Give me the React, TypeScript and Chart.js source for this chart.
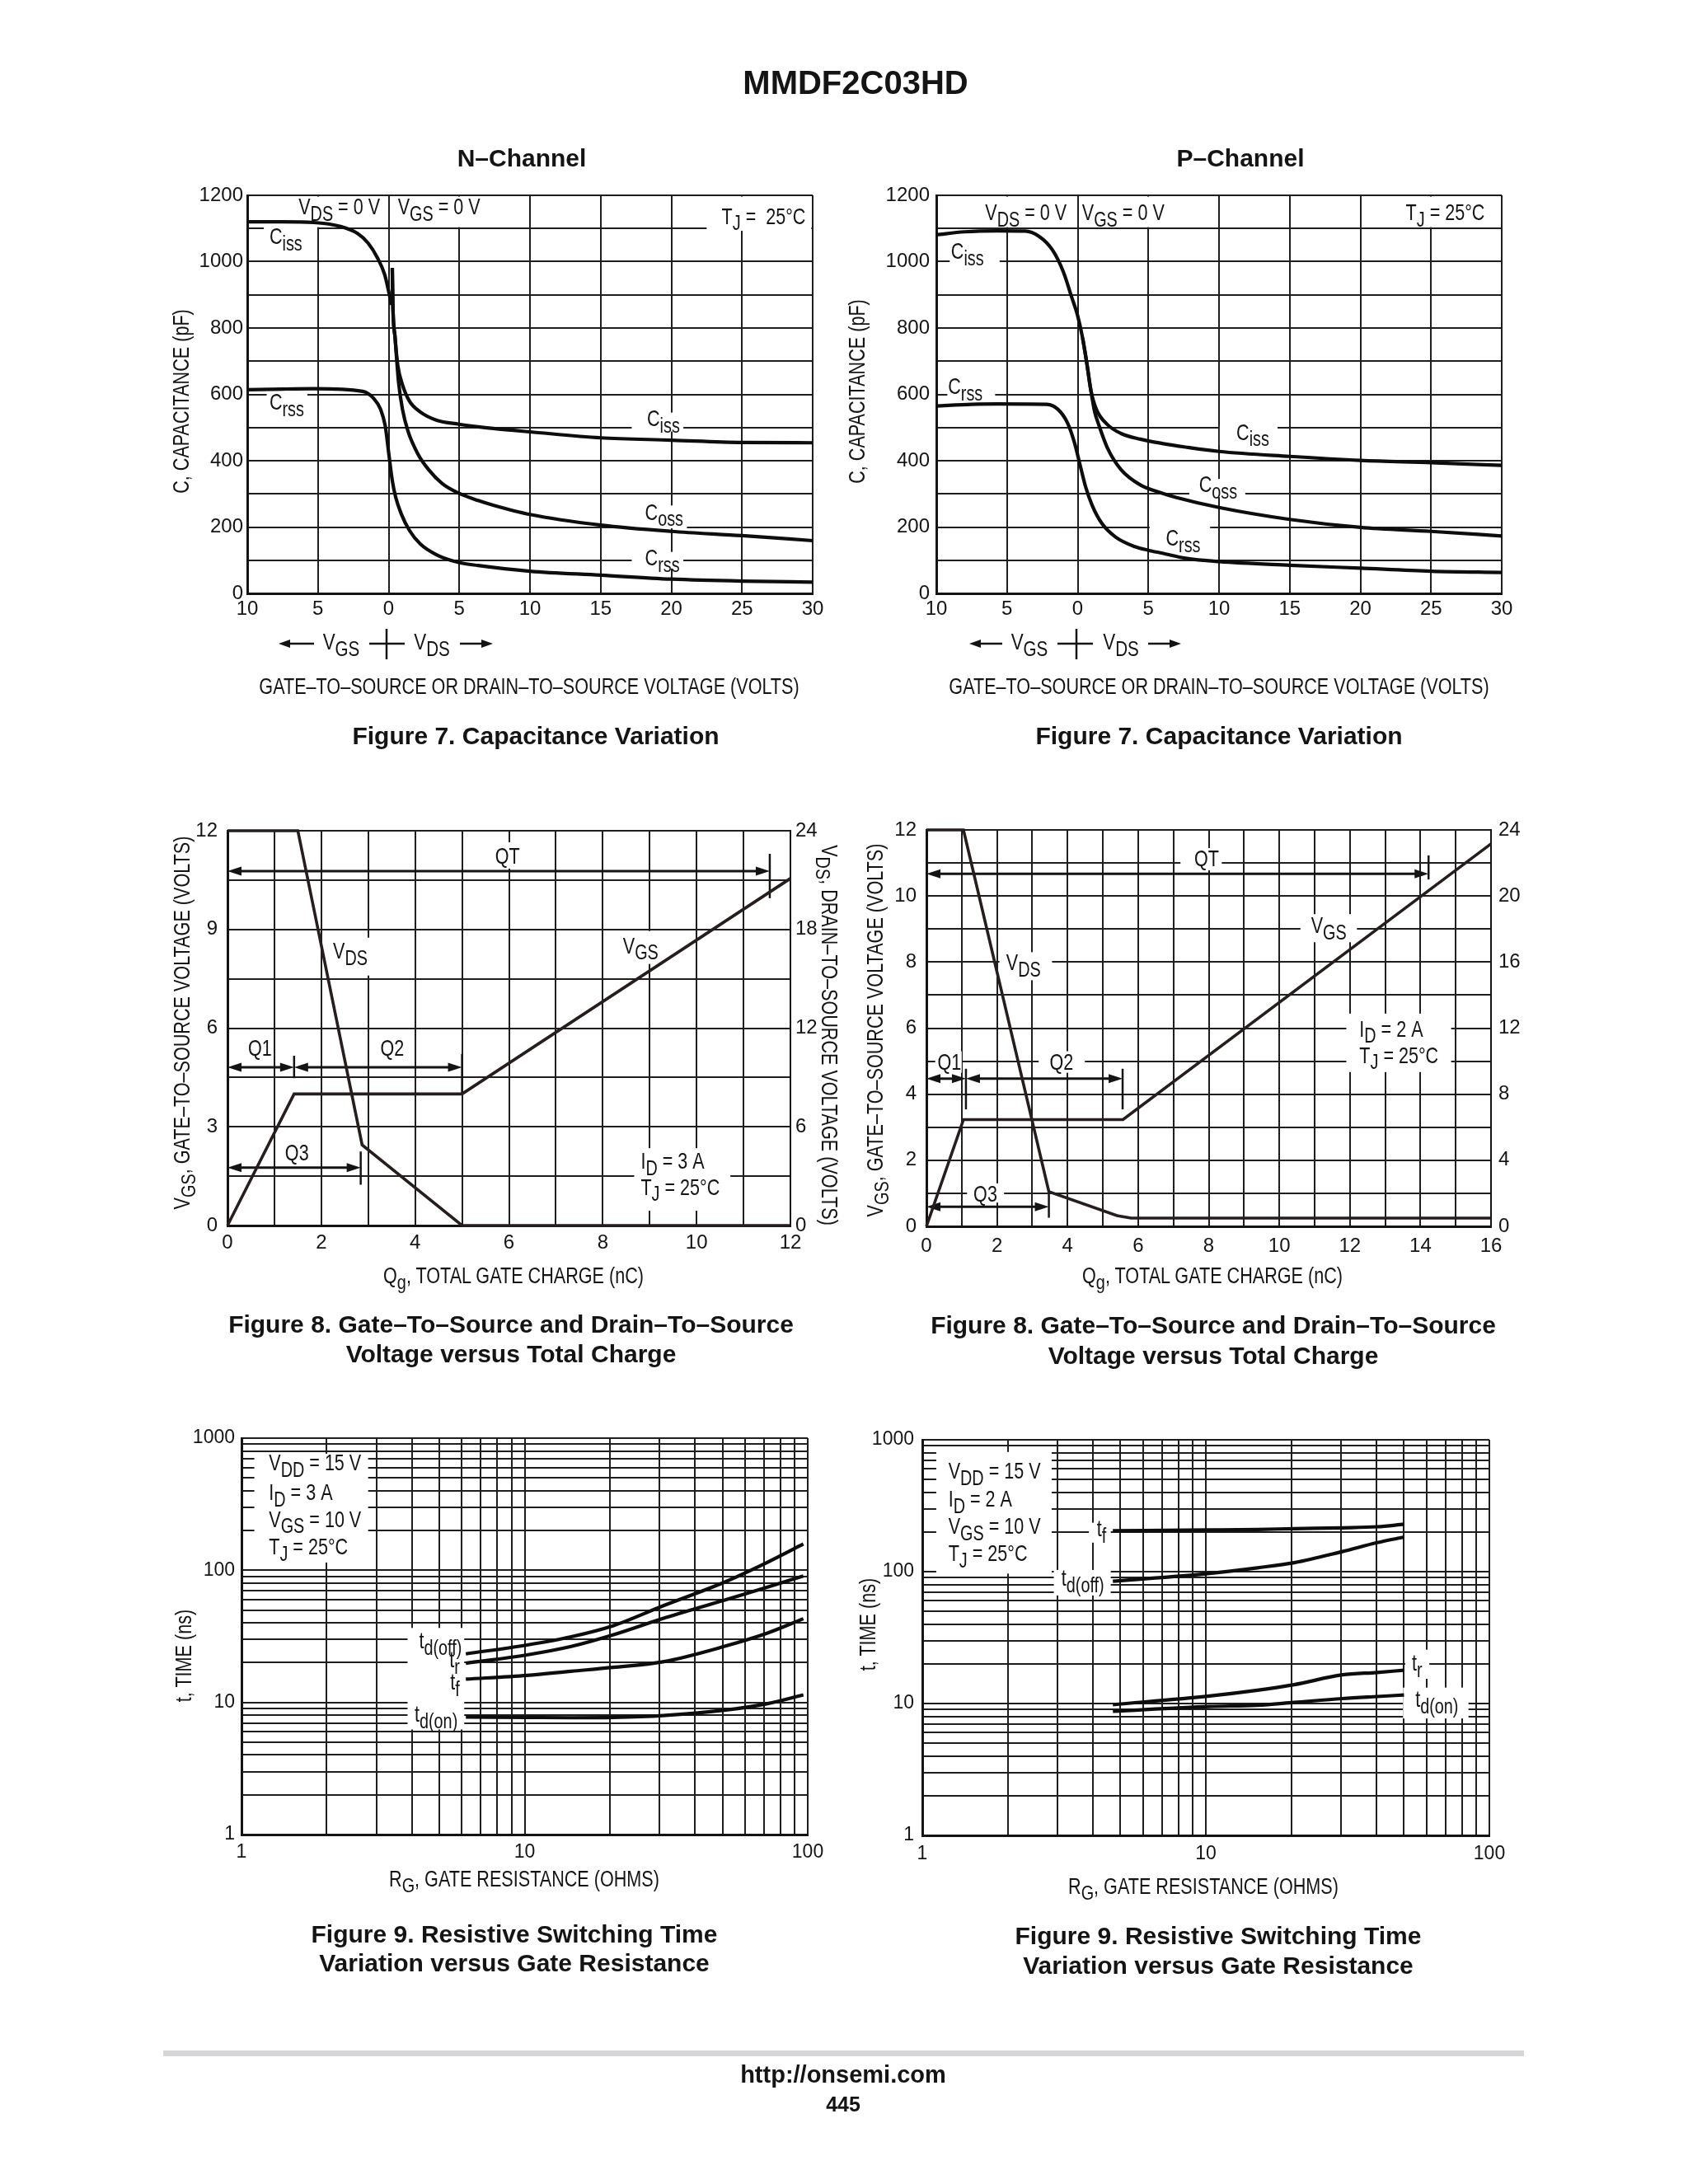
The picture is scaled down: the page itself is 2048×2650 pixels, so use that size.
import React, { useEffect, useRef } from 'react';
import { Chart, registerables } from 'chart.js';

Chart.register(...registerables);

const SANS = "'Liberation Sans', Arial, Helvetica, sans-serif";
const COND = 0.8; // horizontal squeeze used to imitate a condensed face (page texts)
const ACOND = 0.77; // squeeze for in-plot labels
const INK = '#141414';
const GRID = '#1e1e1e';
const CURVE = '#0d0d0d';
const QCURVE = '#261d1d';

Chart.defaults.font.family = SANS;
Chart.defaults.color = INK;

// ---------------- Figure 7, N-Channel (x: VGS side negative, VDS side positive) ----------------
const capVoltGrid = [-10, -5, 0, 5, 10, 15, 20, 25, 30];
const capPfGrid = [0, 100, 200, 300, 400, 500, 600, 700, 800, 900, 1000, 1100, 1200];
const capPfLabels = [0, 200, 400, 600, 800, 1000, 1200];

const nCissGateV = [-10, -7.5, -5.3, -3.4, -2.2, -1.45, -0.77, -0.28, 0.0, 0.2];
const nCissGateC = [1120, 1120, 1118, 1106, 1085, 1056, 1010, 961, 911, 870];
const nCissDrainV = [0.26, 0.3, 0.46, 0.65, 0.98, 1.47, 2.24, 3.41, 4.97, 6.33, 7.4, 10, 15, 20, 25, 30];
const nCissDrainC = [981, 870, 770, 687, 629, 580, 547, 522, 510, 502, 497, 487, 469, 462, 455, 454];
const nCossV = [0.26, 0.3, 0.46, 0.7, 0.98, 1.37, 2.05, 2.83, 3.8, 4.97, 6.33, 7.4, 10, 15, 20, 25, 30];
const nCossC = [981, 870, 770, 638, 555, 489, 422, 373, 331, 302, 280, 266, 238, 206, 187, 174, 159];
const nCrssV = [-10, -7.5, -5.3, -1.84, -1.06, -0.57, -0.24, 0.01, 0.26, 0.5, 0.89, 1.47, 2.24, 3.41, 4.97, 6.33, 10, 15, 20, 25, 30];
const nCrssC = [614, 616, 617, 609, 588, 555, 505, 422, 340, 290, 240, 190, 149, 116, 93, 84, 67, 55, 43, 37, 34];

// ---------------- Figure 7, P-Channel ----------------
const pCissV = [-10, -8, -5.67, -3.73, -2.76, -1.78, -1.01, -0.43, 0, 0.35, 0.64, 0.93, 1.32, 2.1, 3.07, 4.43, 5.98, 7.64, 10, 15, 20, 25, 30];
const pCissC = [1081, 1090, 1093, 1092, 1077, 1035, 969, 894, 837, 770, 696, 613, 555, 509, 482, 465, 452, 441, 428, 413, 401, 394, 386];
const pCossV = [0.35, 0.64, 0.93, 1.2, 1.52, 2.1, 3.07, 4.43, 5.98, 7, 10, 15, 20, 25, 30];
const pCossC = [770, 696, 613, 548, 505, 439, 373, 327, 302, 289, 259, 223, 199, 187, 173];
const pCrssV = [-10, -7.5, -5.67, -2.17, -1.4, -0.72, -0.23, 0.16, 0.55, 1.03, 1.71, 2.68, 4.04, 5, 6, 7.64, 10, 15, 20, 25, 30];
const pCrssC = [565, 570, 571, 570, 555, 514, 455, 389, 323, 265, 211, 170, 141, 130, 121, 106, 96, 85, 76, 67, 63];

// ---------------- Figure 8, N-Channel ----------------
const nQgGrid = [0, 1, 2, 3, 4, 5, 6, 7, 8, 9, 10, 11, 12];
const nQgLabels = [0, 2, 4, 6, 8, 10, 12];
const nVgsGrid = [0, 1.5, 3, 4.5, 6, 7.5, 9, 10.5, 12];
const nVgsLabels = [0, 3, 6, 9, 12];
const nVdsAxis = [0, 6, 12, 18, 24];
const nVgsQ = [0, 1.42, 5.0, 12];
const nVgsV = [0, 4.0, 4.0, 10.55];
const nVdsQ = [0, 1.5, 2.87, 5.0, 12];
const nVdsV = [24, 24, 4.9, 0, 0];

// ---------------- Figure 8, P-Channel ----------------
const pQgGrid = [0, 1, 2, 3, 4, 5, 6, 7, 8, 9, 10, 11, 12, 13, 14, 15, 16];
const pQgLabels = [0, 2, 4, 6, 8, 10, 12, 14, 16];
const pVgsGrid = [0, 1, 2, 3, 4, 5, 6, 7, 8, 9, 10, 11, 12];
const pVgsLabels = [0, 2, 4, 6, 8, 10, 12];
const pVdsAxis = [0, 4, 8, 12, 16, 20, 24];
const pVgsQ = [0, 1.05, 5.57, 16];
const pVgsV = [0, 3.23, 3.23, 11.58];
const pVdsQ = [0, 1.05, 3.47, 5.4, 5.8, 16];
const pVdsV = [24, 24, 2.1, 0.65, 0.5, 0.5];

// ---------------- Figure 9 (log-log) ----------------
const rgGrid = [1, 2, 3, 4, 5, 6, 7, 8, 9, 10, 20, 30, 40, 50, 60, 70, 80, 90, 100];
const rgLabels = [1, 10, 100];
const tGrid = [1, 2, 3, 4, 5, 6, 7, 8, 9, 10, 20, 30, 40, 50, 60, 70, 80, 90, 100, 200, 300, 400, 500, 600, 700, 800, 900, 1000];
const tLabels = [1, 10, 100, 1000];

const nRg = [6.2, 10.2, 14.6, 20.5, 30.8, 50.6, 72.1, 96.5];
const nTdOff = [23.3, 27.2, 31.4, 38, 53.8, 81, 115, 158];
const nTr = [19.8, 22.9, 26.5, 32.4, 43.2, 59.3, 74.7, 90.6];
const nTf = [15, 16, 17.2, 18.4, 20.3, 26.5, 33.5, 43];
const nTdOn = [7.76, 7.7, 7.66, 7.7, 7.95, 8.72, 9.8, 11.4];

const pRg = [4.7, 10.3, 15.2, 20.5, 30.3, 40.2, 50];
const pTf = [204, 207, 209, 212, 215, 219, 229];
const pTdOff = [84.5, 97, 107, 117, 142, 166, 183];
const pTr = [9.8, 11.4, 12.6, 13.9, 16.5, 17.2, 17.9];
const pTdOn = [8.74, 9.5, 9.7, 10.2, 10.9, 11.3, 11.6];

// ---------------- helpers ----------------
type Run = { t: string; sub?: boolean };
function parseRich(s: string): Run[] {
  const out: Run[] = [];
  const re = /_\{([^}]*)\}/g;
  let last = 0;
  let m: any;
  while ((m = re.exec(s))) {
    if (m.index > last) out.push({ t: s.slice(last, m.index) });
    out.push({ t: m[1], sub: true });
    last = re.lastIndex;
  }
  if (last < s.length) out.push({ t: s.slice(last) });
  return out;
}

function drawRich(ctx: any, s: string, x: number, y: number, size: number, align: string) {
  const runs = parseRich(s);
  const fMain = `${size}px ${SANS}`;
  const fSub = `${size * 0.92}px ${SANS}`;
  let w = 0;
  const widths = runs.map((r) => {
    ctx.font = r.sub ? fSub : fMain;
    const mw = ctx.measureText(r.t).width;
    w += mw;
    return mw;
  });
  const sw = w * ACOND;
  const start = align === 'right' ? x - sw : align === 'center' ? x - sw / 2 : x;
  ctx.save();
  ctx.translate(start, y);
  ctx.scale(ACOND, 1);
  ctx.textBaseline = 'middle';
  ctx.textAlign = 'left';
  let cx = 0;
  runs.forEach((r, i) => {
    ctx.font = r.sub ? fSub : fMain;
    ctx.fillText(r.t, cx, r.sub ? size * 0.3 : 0);
    cx += widths[i];
  });
  ctx.restore();
}

function arrowHead(ctx: any, x: number, y: number, dir: number) {
  const L = 17;
  const H = 5.5;
  ctx.beginPath();
  ctx.moveTo(x, y);
  ctx.lineTo(x - dir * L, y - H);
  ctx.lineTo(x - dir * L, y + H);
  ctx.closePath();
  ctx.fill();
}

const annoPlugin = {
  id: 'anno',
  beforeDatasetsDraw(chart: any, _args: any, opts: any) {
    const { ctx, chartArea, scales } = chart;
    const xs = scales.x;
    const ys = scales.y;
    ctx.save();
    ctx.beginPath();
    ctx.rect(chartArea.left + 2, chartArea.top + 1.5, chartArea.right - chartArea.left - 3, chartArea.bottom - chartArea.top - 3);
    ctx.clip();
    ctx.fillStyle = '#ffffff';
    (opts.boxes || []).forEach((b: number[]) => {
      const a1 = xs.getPixelForValue(b[0]);
      const a2 = xs.getPixelForValue(b[1]);
      const c1 = ys.getPixelForValue(b[2]);
      const c2 = ys.getPixelForValue(b[3]);
      ctx.fillRect(Math.min(a1, a2), Math.min(c1, c2), Math.abs(a2 - a1), Math.abs(c2 - c1));
    });
    ctx.restore();
    ctx.save();
    ctx.strokeStyle = INK;
    ctx.fillStyle = INK;
    (opts.arrows || []).forEach((a: number[]) => {
      const x1 = xs.getPixelForValue(a[0]);
      const x2 = xs.getPixelForValue(a[1]);
      const y = ys.getPixelForValue(a[2]);
      ctx.lineWidth = 3;
      ctx.beginPath();
      ctx.moveTo(x1 + 8, y);
      ctx.lineTo(x2 - 8, y);
      ctx.stroke();
      arrowHead(ctx, x1, y, -1);
      arrowHead(ctx, x2, y, 1);
    });
    (opts.bars || []).forEach((b: number[]) => {
      const x = xs.getPixelForValue(b[0]);
      ctx.lineWidth = 2.5;
      ctx.beginPath();
      ctx.moveTo(x, ys.getPixelForValue(b[1]));
      ctx.lineTo(x, ys.getPixelForValue(b[2]));
      ctx.stroke();
    });
    (opts.texts || []).forEach((t: any) => {
      drawRich(ctx, t.s, xs.getPixelForValue(t.x), ys.getPixelForValue(t.y), t.size || 28, t.align || 'left');
    });
    ctx.restore();
  },
};

function makeScale(o: any) {
  return {
    type: o.type || 'linear',
    position: o.position,
    min: o.min,
    max: o.max,
    afterBuildTicks: (s: any) => {
      s.ticks = o.grid.map((v: number) => ({ value: v }));
    },
    afterFit: (s: any) => {
      if (o.fitW !== undefined) s.width = o.fitW;
      if (o.fitH !== undefined) s.height = o.fitH;
    },
    ticks: {
      autoSkip: false,
      maxRotation: 0,
      minRotation: 0,
      padding: o.pad,
      color: INK,
      font: { family: SANS, size: o.size || 24 },
      callback: (v: any) => (o.labels.includes(Number(v)) ? String(o.abs ? Math.abs(Number(v)) : Number(v)) : ''),
    },
    grid: { display: o.showGrid !== false, color: GRID, lineWidth: 2, drawTicks: false },
    border: { display: true, color: INK, width: o.borderW || 3 },
  };
}

const pts = (xs: number[], ys: number[]) => xs.map((x, i) => ({ x, y: ys[i] }));
const curve = (xs: number[], ys: number[]) => ({
  data: pts(xs, ys),
  borderColor: CURVE,
  borderWidth: 4.2,
  pointRadius: 0,
  fill: false,
  cubicInterpolationMode: 'monotone',
  clip: false,
});
const straight = (xs: number[], ys: number[], axis: string) => ({
  data: pts(xs, ys),
  yAxisID: axis,
  borderColor: QCURVE,
  borderWidth: 3.6,
  pointRadius: 0,
  fill: false,
  tension: 0,
  clip: false,
  borderJoinStyle: 'miter',
});

function baseOptions(pad: any, anno: any) {
  return {
    responsive: false,
    animation: false,
    devicePixelRatio: 1,
    events: [],
    layout: { padding: pad },
    plugins: { legend: { display: false }, tooltip: { enabled: false }, anno },
  };
}

// ---------------- annotation sets ----------------
const capNAnno = {
  boxes: [
    [-6.8, -0.35, 1104, 1197], [0.3, 6.9, 1104, 1197], [22.5, 29.9, 1093, 1197],
    [-8.83, -5.05, 1028, 1106], [-8.63, -5.75, 530, 604],
    [17.2, 20.85, 488, 545], [17.2, 21.1, 196, 265], [17.2, 20.85, 75, 125],
  ],
  texts: [
    { s: 'V_{DS} = 0 V', x: -0.61, y: 1161, align: 'right' },
    { s: 'V_{GS} = 0 V', x: 0.65, y: 1161 },
    { s: 'T_{J} =  25°C', x: 29.5, y: 1133, align: 'right' },
    { s: 'C_{iss}', x: -8.43, y: 1072 },
    { s: 'C_{rss}', x: -8.43, y: 572 },
    { s: 'C_{iss}', x: 18.28, y: 524 },
    { s: 'C_{oss}', x: 18.14, y: 241 },
    { s: 'C_{rss}', x: 18.14, y: 103 },
  ],
};

const capPAnno = {
  boxes: [
    [-7.13, -0.5, 1104, 1197], [0.16, 6.57, 1104, 1197], [22.6, 29.9, 1104, 1197],
    [-9.05, -5.52, 985, 1060], [-9.22, -5.84, 590, 645],
    [10.05, 14.14, 448, 505], [7.9, 11.86, 290, 345], [5.09, 9.37, 135, 205],
  ],
  texts: [
    { s: 'V_{DS} = 0 V', x: -0.78, y: 1144, align: 'right' },
    { s: 'V_{GS} = 0 V', x: 0.31, y: 1144 },
    { s: 'T_{J} = 25°C', x: 28.8, y: 1144, align: 'right' },
    { s: 'C_{iss}', x: -8.96, y: 1027 },
    { s: 'C_{rss}', x: -9.17, y: 621 },
    { s: 'C_{iss}', x: 11.23, y: 482 },
    { s: 'C_{oss}', x: 8.58, y: 325 },
    { s: 'C_{rss}', x: 6.24, y: 163 },
  ],
};

const gateNAnno = {
  boxes: [[5.55, 6.4, 10.85, 11.65], [2.2, 3.15, 7.6, 8.75], [8.35, 9.3, 7.95, 8.95], [8.67, 10.72, 0.45, 2.35]],
  arrows: [[0, 11.56, 10.77], [0, 1.42, 4.81], [1.42, 5.0, 4.81], [0, 2.84, 1.76]],
  bars: [[11.56, 9.95, 11.3], [1.42, 4.48, 5.16], [5.0, 3.98, 5.21], [2.84, 1.24, 2.25]],
  texts: [
    { s: 'QT', x: 5.97, y: 11.2, align: 'center' },
    { s: 'V_{DS}', x: 2.25, y: 8.3 },
    { s: 'V_{GS}', x: 8.43, y: 8.47 },
    { s: 'Q1', x: 0.69, y: 5.36, align: 'center' },
    { s: 'Q2', x: 3.51, y: 5.36, align: 'center' },
    { s: 'Q3', x: 1.48, y: 2.18, align: 'center' },
    { s: 'I_{D} = 3 A', x: 8.81, y: 1.91 },
    { s: 'T_{J} = 25°C', x: 8.81, y: 1.13 },
  ],
};

const gatePAnno = {
  boxes: [
    [7.2, 8.37, 10.78, 11.45], [10.6, 12.2, 8.6, 9.45], [2.07, 3.56, 7.45, 8.3],
    [0.25, 1.0, 4.65, 5.3], [3.18, 4.49, 4.65, 5.3], [1.15, 2.2, 0.72, 1.3], [11.9, 14.87, 4.67, 6.44],
  ],
  arrows: [[0, 14.23, 10.67], [0, 1.12, 4.47], [1.12, 5.56, 4.47], [0, 3.47, 0.59]],
  bars: [[14.23, 10.5, 11.23], [1.12, 3.54, 4.77], [5.56, 3.54, 4.77], [3.47, 0.26, 0.98]],
  texts: [
    { s: 'QT', x: 7.94, y: 11.09, align: 'center' },
    { s: 'V_{DS}', x: 2.26, y: 7.94 },
    { s: 'V_{GS}', x: 10.9, y: 9.08 },
    { s: 'Q1', x: 0.65, y: 4.94, align: 'center' },
    { s: 'Q2', x: 3.83, y: 4.94, align: 'center' },
    { s: 'Q3', x: 1.67, y: 0.95, align: 'center' },
    { s: 'I_{D} = 2 A', x: 12.27, y: 5.94 },
    { s: 'T_{J} = 25°C', x: 12.27, y: 5.14 },
  ],
};

const swNAnno = {
  boxes: [[1.11, 2.8, 114.5, 762], [3.86, 6.12, 6.24, 36.6]],
  texts: [
    { s: 'V_{DD} = 15 V', x: 1.25, y: 635 },
    { s: 'I_{D} = 3 A', x: 1.25, y: 382 },
    { s: 'V_{GS} = 10 V', x: 1.25, y: 238 },
    { s: 'T_{J} = 25°C', x: 1.25, y: 148 },
    { s: 't_{d(off)}', x: 6.0, y: 28.7, align: 'right' },
    { s: 't_{r}', x: 5.9, y: 20.5, align: 'right' },
    { s: 't_{f}', x: 5.9, y: 14, align: 'right' },
    { s: 't_{d(on)}', x: 5.8, y: 8.0, align: 'right' },
  ],
};

const swPAnno = {
  boxes: [[1.12, 2.86, 96.7, 808], [3.87, 4.62, 166, 235], [2.91, 4.62, 66, 103], [50.5, 61.4, 15.4, 25.6], [49.6, 84.4, 7.7, 13.2]],
  texts: [
    { s: 'V_{DD} = 15 V', x: 1.236, y: 570 },
    { s: 'I_{D} = 2 A', x: 1.236, y: 348 },
    { s: 'V_{GS} = 10 V', x: 1.236, y: 216 },
    { s: 'T_{J} = 25°C', x: 1.236, y: 134 },
    { s: 't_{f}', x: 4.46, y: 207, align: 'right' },
    { s: 't_{d(off)}', x: 4.38, y: 87, align: 'right' },
    { s: 't_{r}', x: 53.3, y: 19.9 },
    { s: 't_{d(on)}', x: 54.8, y: 10.5 },
  ],
};

// ---------------- chart configs ----------------
const cfgCapN = () => ({
  type: 'line',
  data: { datasets: [curve(nCissGateV, nCissGateC), curve(nCissDrainV, nCissDrainC), curve(nCossV, nCossC), curve(nCrssV, nCrssC)] },
  options: {
    ...baseOptions({ top: 37, right: 44, bottom: 0, left: 0 }, capNAnno),
    scales: {
      x: makeScale({ min: -10, max: 30, grid: capVoltGrid, labels: capVoltGrid, abs: true, pad: 5, fitH: 40 }),
      y: makeScale({ min: 0, max: 1200, grid: capPfGrid, labels: capPfLabels, pad: 5, fitW: 120 }),
    },
  },
  plugins: [annoPlugin],
});

const cfgCapP = () => ({
  type: 'line',
  data: { datasets: [curve(pCissV, pCissC), curve(pCossV, pCossC), curve(pCrssV, pCrssC)] },
  options: {
    ...baseOptions({ top: 37, right: 44, bottom: 0, left: 0 }, capPAnno),
    scales: {
      x: makeScale({ min: -10, max: 30, grid: capVoltGrid, labels: capVoltGrid, abs: true, pad: 5, fitH: 40 }),
      y: makeScale({ min: 0, max: 1200, grid: capPfGrid, labels: capPfLabels, pad: 8, fitW: 120 }),
    },
  },
  plugins: [annoPlugin],
});

const cfgGateN = () => ({
  type: 'line',
  data: { datasets: [straight(nVgsQ, nVgsV, 'y'), straight(nVdsQ, nVdsV, 'y2')] },
  options: {
    ...baseOptions({ top: 38, right: 0, bottom: 0, left: 0 }, gateNAnno),
    scales: {
      x: makeScale({ min: 0, max: 12, grid: nQgGrid, labels: nQgLabels, pad: 7, fitH: 43 }),
      y: makeScale({ min: 0, max: 12, grid: nVgsGrid, labels: nVgsLabels, pad: 12, fitW: 116 }),
      y2: makeScale({ position: 'right', min: 0, max: 24, grid: nVdsAxis, labels: nVdsAxis, pad: 6, fitW: 81, showGrid: false, borderW: 2 }),
    },
  },
  plugins: [annoPlugin],
});

const cfgGateP = () => ({
  type: 'line',
  data: { datasets: [straight(pVgsQ, pVgsV, 'y'), straight(pVdsQ, pVdsV, 'y2')] },
  options: {
    ...baseOptions({ top: 37, right: 0, bottom: 0, left: 0 }, gatePAnno),
    scales: {
      x: makeScale({ min: 0, max: 16, grid: pQgGrid, labels: pQgLabels, pad: 10, fitH: 42 }),
      y: makeScale({ min: 0, max: 12, grid: pVgsGrid, labels: pVgsLabels, pad: 12, fitW: 124 }),
      y2: makeScale({ position: 'right', min: 0, max: 24, grid: pVdsAxis, labels: pVdsAxis, pad: 9, fitW: 71, showGrid: false, borderW: 2 }),
    },
  },
  plugins: [annoPlugin],
});

const cfgSwN = () => ({
  type: 'line',
  data: { datasets: [curve(nRg, nTdOff), curve(nRg, nTr), curve(nRg, nTf), curve(nRg, nTdOn)] },
  options: {
    ...baseOptions({ top: 35, right: 40, bottom: 0, left: 0 }, swNAnno),
    scales: {
      x: makeScale({ type: 'logarithmic', min: 1, max: 100, grid: rgGrid, labels: rgLabels, pad: 8, fitH: 44, size: 23 }),
      y: makeScale({ type: 'logarithmic', min: 1, max: 1000, grid: tGrid, labels: tLabels, pad: 8, fitW: 113, size: 23 }),
    },
  },
  plugins: [annoPlugin],
});

const cfgSwP = () => ({
  type: 'line',
  data: { datasets: [curve(pRg, pTf), curve(pRg, pTdOff), curve(pRg, pTr), curve(pRg, pTdOn)] },
  options: {
    ...baseOptions({ top: 37, right: 43, bottom: 0, left: 0 }, swPAnno),
    scales: {
      x: makeScale({ type: 'logarithmic', min: 1, max: 100, grid: rgGrid, labels: rgLabels, pad: 9, fitH: 43, size: 23 }),
      y: makeScale({ type: 'logarithmic', min: 1, max: 1000, grid: tGrid, labels: tLabels, pad: 10, fitW: 119, size: 23 }),
    },
  },
  plugins: [annoPlugin],
});

// ---------------- components ----------------
function ChartCanvas(props: { left: number; top: number; width: number; height: number; make: () => any }) {
  const ref = useRef<HTMLCanvasElement>(null);
  useEffect(() => {
    const c = new Chart(ref.current as any, props.make());
    return () => c.destroy();
  }, []);
  return (
    <canvas
      ref={ref}
      width={props.width}
      height={props.height}
      style={{ position: 'absolute', left: props.left, top: props.top, width: props.width, height: props.height }}
    />
  );
}

function Rich({ s }: { s: string }) {
  return (
    <>
      {parseRich(s).map((r, i) =>
        r.sub ? (
          <span key={i} style={{ fontSize: '0.92em', position: 'relative', top: '0.3em' }}>{r.t}</span>
        ) : (
          <span key={i}>{r.t}</span>
        )
      )}
    </>
  );
}

function Txt(p: { s: string; x: number; y: number; size?: number; bold?: boolean; rot?: number; wide?: boolean }) {
  const sx = p.wide ? 1 : COND;
  return (
    <div
      style={{
        position: 'absolute',
        left: p.x,
        top: p.y,
        transform: `translate(-50%, -50%) rotate(${p.rot || 0}deg) scaleX(${sx})`,
        whiteSpace: 'nowrap',
        fontFamily: SANS,
        fontSize: p.size || 27,
        fontWeight: p.bold ? 700 : 400,
        color: INK,
        lineHeight: 1.15,
      }}
    >
      <Rich s={p.s} />
    </div>
  );
}

const pageTexts = [
  { s: 'MMDF2C03HD', x: 1038, y: 100, size: 40, bold: true, wide: true },
  { s: 'N–Channel', x: 633, y: 192, size: 30, bold: true, wide: true },
  { s: 'P–Channel', x: 1505, y: 192, size: 30, bold: true, wide: true },
  { s: 'C, CAPACITANCE (pF)', x: 221, y: 487, rot: -90 },
  { s: 'C, CAPACITANCE (pF)', x: 1041, y: 475, rot: -90 },
  { s: 'V_{GS}', x: 414, y: 779, size: 28 },
  { s: 'V_{DS}', x: 524, y: 779, size: 28 },
  { s: 'V_{GS}', x: 1249, y: 779, size: 28 },
  { s: 'V_{DS}', x: 1360, y: 779, size: 28 },
  { s: 'GATE–TO–SOURCE OR DRAIN–TO–SOURCE VOLTAGE (VOLTS)', x: 642, y: 834 },
  { s: 'GATE–TO–SOURCE OR DRAIN–TO–SOURCE VOLTAGE (VOLTS)', x: 1479, y: 834 },
  { s: 'Figure 7. Capacitance Variation', x: 650, y: 893, size: 30, bold: true, wide: true },
  { s: 'Figure 7. Capacitance Variation', x: 1479, y: 893, size: 30, bold: true, wide: true },
  { s: 'V_{GS}, GATE–TO–SOURCE VOLTAGE (VOLTS)', x: 222, y: 1241, rot: -90 },
  { s: 'V_{DS}, DRAIN–TO–SOURCE VOLTAGE (VOLTS)', x: 1005, y: 1256, rot: 90 },
  { s: 'V_{GS}, GATE–TO–SOURCE VOLTAGE (VOLTS)', x: 1063, y: 1250, rot: -90 },
  { s: 'Q_{g}, TOTAL GATE CHARGE (nC)', x: 623, y: 1549 },
  { s: 'Q_{g}, TOTAL GATE CHARGE (nC)', x: 1471, y: 1549 },
  { s: 'Figure 8. Gate–To–Source and Drain–To–Source', x: 620, y: 1607, size: 30, bold: true, wide: true },
  { s: 'Voltage versus Total Charge', x: 620, y: 1643, size: 30, bold: true, wide: true },
  { s: 'Figure 8. Gate–To–Source and Drain–To–Source', x: 1472, y: 1608, size: 30, bold: true, wide: true },
  { s: 'Voltage versus Total Charge', x: 1472, y: 1645, size: 30, bold: true, wide: true },
  { s: 't, TIME (ns)', x: 224, y: 2009, rot: -90 },
  { s: 't, TIME (ns)', x: 1054, y: 1971, rot: -90 },
  { s: 'R_{G}, GATE RESISTANCE (OHMS)', x: 636, y: 2281 },
  { s: 'R_{G}, GATE RESISTANCE (OHMS)', x: 1460, y: 2290 },
  { s: 'Figure 9. Resistive Switching Time', x: 624, y: 2347, size: 30, bold: true, wide: true },
  { s: 'Variation versus Gate Resistance', x: 624, y: 2382, size: 30, bold: true, wide: true },
  { s: 'Figure 9. Resistive Switching Time', x: 1478, y: 2349, size: 30, bold: true, wide: true },
  { s: 'Variation versus Gate Resistance', x: 1478, y: 2385, size: 30, bold: true, wide: true },
  { s: 'http://onsemi.com', x: 1023, y: 2518, size: 29, bold: true, wide: true },
  { s: '445', x: 1023, y: 2553, size: 25, bold: true, wide: true },
];

function LegendMarks() {
  const arrow = (x1: number, x2: number, y: number, head: number, key: string) => {
    const dir = head === x1 ? -1 : 1;
    const L = 14;
    const H = 5;
    return (
      <g key={key}>
        <line x1={dir < 0 ? x1 + 6 : x1} y1={y} x2={dir > 0 ? x2 - 6 : x2} y2={y} stroke={INK} strokeWidth={2.5} />
        <polygon points={`${head},${y} ${head - dir * L},${y - H} ${head - dir * L},${y + H}`} fill={INK} />
      </g>
    );
  };
  const cross = (x1: number, x2: number, xv: number, y: number, key: string) => (
    <g key={key}>
      <line x1={x1} y1={y} x2={x2} y2={y} stroke={INK} strokeWidth={2.5} />
      <line x1={xv} y1={763} x2={xv} y2={800} stroke={INK} strokeWidth={2.5} />
    </g>
  );
  return (
    <svg width={2048} height={2650} style={{ position: 'absolute', left: 0, top: 0, pointerEvents: 'none' }}>
      {arrow(338, 381, 781, 338, 'a1')}
      {cross(448, 491, 469, 781, 'c1')}
      {arrow(558, 598, 781, 598, 'a2')}
      {arrow(1176, 1216, 781, 1176, 'a3')}
      {cross(1283, 1326, 1306, 781, 'c2')}
      {arrow(1393, 1433, 781, 1433, 'a4')}
    </svg>
  );
}

export default function App() {
  return (
    <div style={{ position: 'absolute', left: 0, top: 0, width: 2048, height: 2650, background: '#ffffff', overflow: 'hidden' }}>
      <ChartCanvas left={180} top={200} width={850} height={560} make={cfgCapN} />
      <ChartCanvas left={1016} top={200} width={850} height={560} make={cfgCapP} />
      <ChartCanvas left={160} top={970} width={880} height={560} make={cfgGateN} />
      <ChartCanvas left={1000} top={970} width={880} height={560} make={cfgGateP} />
      <ChartCanvas left={180} top={1710} width={840} height={560} make={cfgSwN} />
      <ChartCanvas left={1000} top={1710} width={850} height={560} make={cfgSwP} />
      <LegendMarks />
      {pageTexts.map((t, i) => (
        <Txt key={i} {...t} />
      ))}
      <div style={{ position: 'absolute', left: 198, top: 2488, width: 1651, height: 7, background: '#d6d6d9' }} />
    </div>
  );
}
